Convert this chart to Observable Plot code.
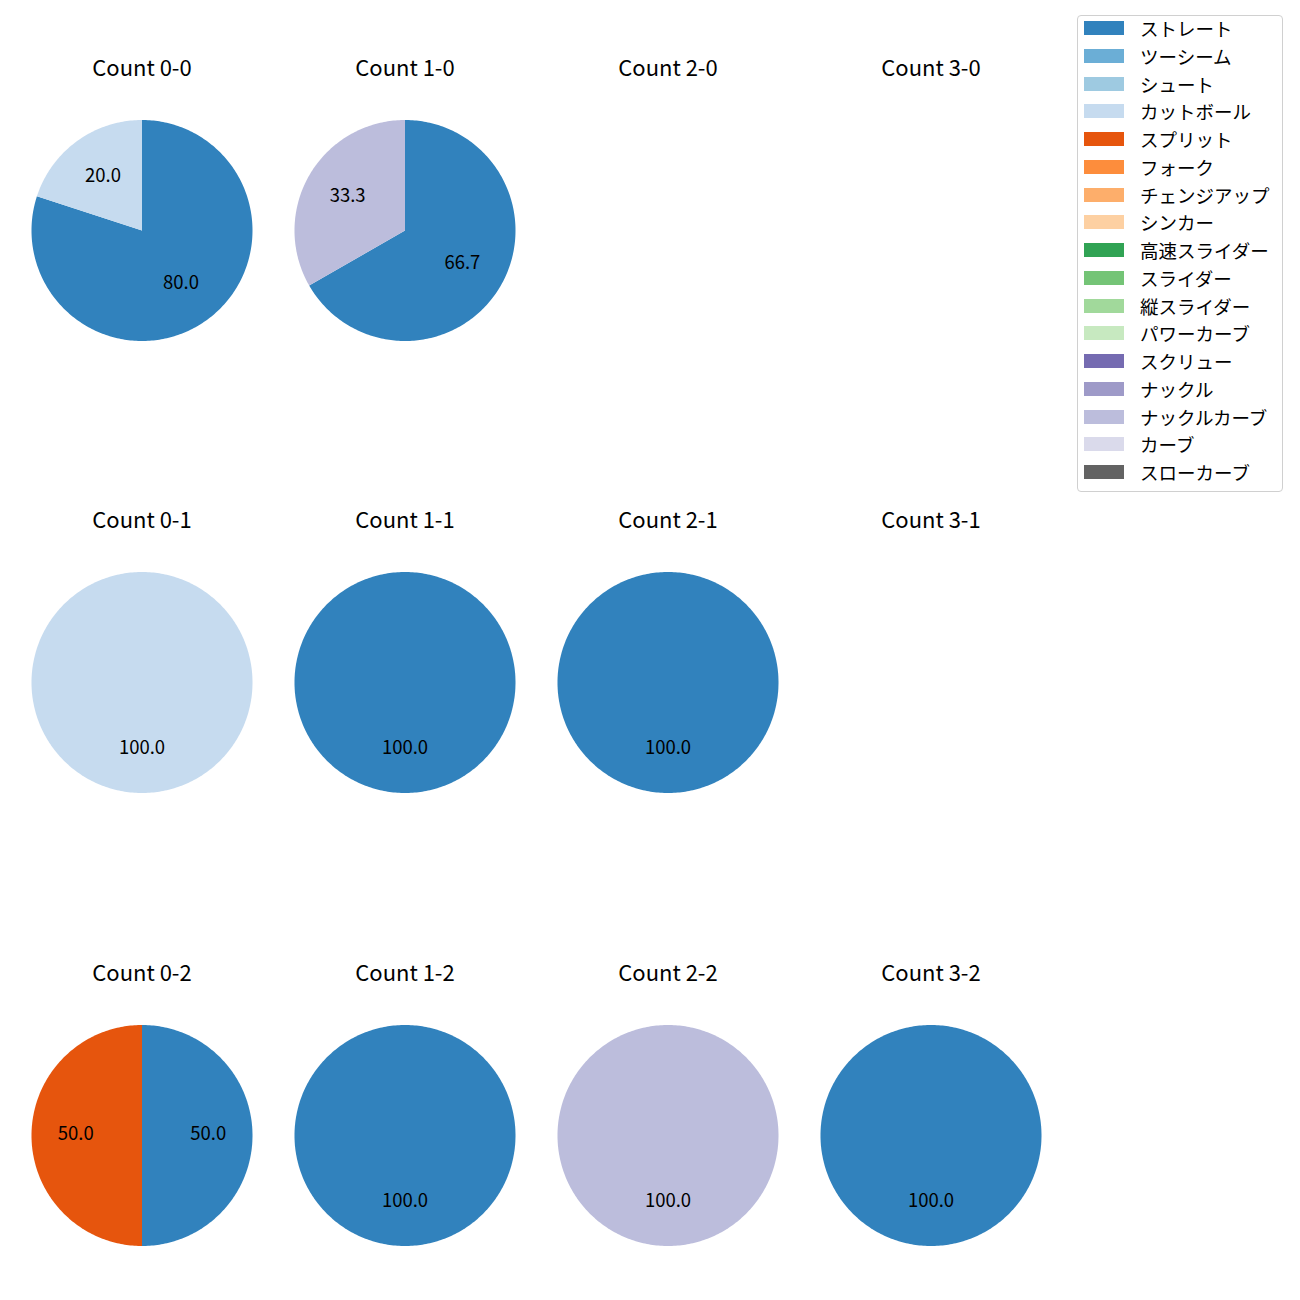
<!DOCTYPE html>
<html>
<head>
<meta charset="utf-8">
<script src="https://cdn.jsdelivr.net/npm/d3@7"></script>
<script src="https://cdn.jsdelivr.net/npm/@observablehq/plot@0.6"></script>
<style>
  html, body { margin: 0; padding: 0; background: #fff; }
  body { font-family: "Noto Sans CJK JP", "Noto Sans", sans-serif; }
  #root { position: relative; width: 1300px; height: 1300px; }
  .cell { position: absolute; }
  #legend { position: absolute; left: 1077px; top: 15px; width: 204px; height: 475px;
            border: 1px solid #d0d0d0; border-radius: 4px; box-sizing: content-box; background: #fff; }
  .lg-row { position: absolute; left: 0; height: 20px; }
  .lg-sw { position: absolute; left: 6px; width: 40px; height: 14px; }
  .lg-tx { position: absolute; left: 63px; font-size: 18.5px; line-height: 20px; white-space: nowrap; color: #000; }
</style>
</head>
<body>
<div id="root"></div>
<script>
// Pitch types (legend order) and their colours
const pitchNames = ["ストレート","ツーシーム","シュート","カットボール","スプリット","フォーク","チェンジアップ","シンカー","高速スライダー","スライダー","縦スライダー","パワーカーブ","スクリュー","ナックル","ナックルカーブ","カーブ","スローカーブ"];
const pitchColors = ["#3182bd","#6baed6","#9ecae1","#c6dbef","#e6550d","#fd8d3c","#fdae6b","#fdd0a2","#31a354","#74c476","#a1d99b","#c7e9c0","#756bb1","#9e9ac8","#bcbddc","#dadaeb","#636363"];

// Panels: balls (columns) and strikes (rows)
const balls = [0, 1, 2, 3];
const strikes = [0, 1, 2];

// Slices: count, pitch, share (%)
const sliceCount = ["0-0","0-0","1-0","1-0","0-1","1-1","2-1","0-2","0-2","1-2","2-2","3-2"];
const slicePitch = ["ストレート","カットボール","ストレート","ナックルカーブ","カットボール","ストレート","ストレート","ストレート","スプリット","ストレート","ナックルカーブ","ストレート"];
const sliceShare = [80, 20, 66.7, 33.3, 100, 100, 100, 50, 50, 100, 100, 100];

const root = document.getElementById("root");
const cellW = 263, cellH = 452, R = 110.5;
const x0 = 141.3, dxCol = 262.9, y0 = 229.5, dyRow = 452.65;

for (const s of strikes) {
  for (const b of balls) {
    const key = `${b}-${s}`;
    const slices = sliceCount.map((c, i) => ({c, pitch: slicePitch[i], share: sliceShare[i]}))
      .filter(d => d.c === key)
      .sort((a, b2) => pitchNames.indexOf(a.pitch) - pitchNames.indexOf(b2.pitch));
    const total = d3.sum(slices, d => d.share);
    // build wedge polygons in unit-circle data space (clockwise from 12 o'clock)
    const poly = [];
    const labels = [];
    let acc = 0;
    for (const d of slices) {
      const a0 = Math.PI / 2 - (acc / total) * 2 * Math.PI;
      const a1 = Math.PI / 2 - ((acc + d.share) / total) * 2 * Math.PI;
      const n = Math.max(8, Math.ceil(Math.abs(a1 - a0) / (Math.PI / 180)));
      if (d.share < total) poly.push({pitch: d.pitch, x: 0, y: 0});
      for (let k = 0; k <= n; k++) {
        const a = a0 + (a1 - a0) * k / n;
        poly.push({pitch: d.pitch, x: Math.cos(a), y: Math.sin(a)});
      }
      const am = (a0 + a1) / 2;
      labels.push({x: 0.6 * Math.cos(am), y: 0.6 * Math.sin(am), text: d.share.toFixed(1)});
      acc += d.share;
    }
    const hx = (cellW / 2) / R, hy = (cellH / 2) / R;
    const chart = Plot.plot({
      width: cellW, height: cellH,
      margin: 0,
      x: {domain: [-hx, hx], axis: null},
      y: {domain: [-hy, hy], axis: null},
      color: {domain: pitchNames, range: pitchColors},
      style: {fontFamily: '"Noto Sans CJK JP", "Noto Sans", sans-serif', background: "transparent", overflow: "visible"},
      marks: [
        Plot.line(poly, {x: "x", y: "y", z: "pitch", fill: "pitch", stroke: "none", curve: "linear-closed"}),
        Plot.text(labels, {x: "x", y: "y", text: "text", fontSize: 18.5, fill: "#000", dy: -1}),
        Plot.text([`Count ${key}`], {frameAnchor: "top", dy: cellH / 2 - 162, lineAnchor: "middle", fontSize: 22, fill: "#000"})
      ]
    });
    chart.classList.add("cell");
    chart.style.left = (x0 + dxCol * b - cellW / 2) + "px";
    chart.style.top = (y0 + dyRow * s - cellH / 2) + "px";
    root.appendChild(chart);
  }
}

// Legend
const legend = document.createElement("div");
legend.id = "legend";
pitchNames.forEach((name, i) => {
  const row = document.createElement("div");
  row.className = "lg-row";
  row.style.top = (2 + 27.75 * i) + "px";
  row.style.width = "100%";
  const sw = document.createElement("div");
  sw.className = "lg-sw";
  sw.style.top = "3px";
  sw.style.background = pitchColors[i];
  const tx = document.createElement("div");
  tx.className = "lg-tx";
  tx.style.left = "62px";
  tx.textContent = name;
  row.appendChild(sw);
  row.appendChild(tx);
  legend.appendChild(row);
});
root.appendChild(legend);
</script>
</body>
</html>
